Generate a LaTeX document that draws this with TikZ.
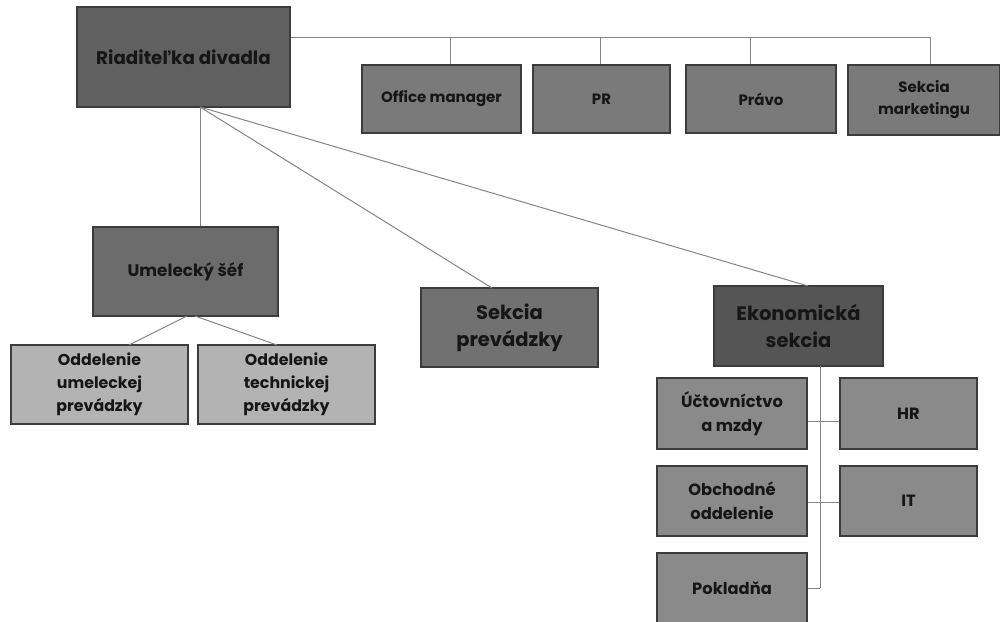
\documentclass[tikz,border=0pt]{standalone}
\usepackage{fontspec}
\setmainfont{Poppins}
\definecolor{linec}{HTML}{858585}
\definecolor{edgec}{HTML}{3C3C3C}
\definecolor{txt}{HTML}{161616}
\definecolor{fRoot}{HTML}{606060}
\definecolor{fTop}{HTML}{7A7A7A}
\definecolor{fUm}{HTML}{6C6C6C}
\definecolor{fSp}{HTML}{717171}
\definecolor{fEko}{HTML}{555555}
\definecolor{fLight}{HTML}{B3B3B3}
\definecolor{fSub}{HTML}{8A8A8A}
\begin{document}
\begin{tikzpicture}[x=1pt,y=-1pt,
  box/.style={draw=edgec,line width=1.4pt,text=txt,align=center,inner sep=2pt,font=\bfseries},
  conn/.style={draw=linec,line width=1pt}]
\useasboundingbox (0,0) rectangle (1000,621);
% root
\node[box,fill=fRoot,minimum width=213pt,minimum height=100pt,font=\bfseries\fontsize{18.3}{22}\selectfont] (root) at (183.5,57) {Riaditeľka divadla};
% top row
\node[box,fill=fTop,minimum width=159pt,minimum height=68pt,font=\bfseries\fontsize{15}{22}\selectfont] (om) at (441.5,99) {Office manager};
\node[box,fill=fTop,minimum width=137pt,minimum height=68pt,font=\bfseries\fontsize{15}{22}\selectfont] (pr) at (601.5,99) {PR};
\node[box,fill=fTop,minimum width=150pt,minimum height=68pt,font=\bfseries\fontsize{15}{22}\selectfont] (pravo) at (761,99) {Právo};
\node[box,fill=fTop,minimum width=152pt,minimum height=70pt,font=\bfseries\fontsize{15}{22}\selectfont] (mkt) at (924,100) {Sekcia\\marketingu};
% second level
\node[box,fill=fUm,minimum width=185pt,minimum height=89pt,font=\bfseries\fontsize{16.8}{20}\selectfont] (umel) at (185.5,271.5) {Umelecký šéf};
\node[box,fill=fSp,minimum width=177pt,minimum height=79pt,font=\bfseries\fontsize{19.5}{27}\selectfont] (sp) at (509.5,327.5) {Sekcia\\prevádzky};
\node[box,fill=fEko,minimum width=169pt,minimum height=80pt,font=\bfseries\fontsize{19.5}{27}\selectfont] (eko) at (798.5,326) {Ekonomická\\sekcia};
% umelecky children
\node[box,fill=fLight,minimum width=177pt,minimum height=79pt,font=\bfseries\fontsize{15.8}{23}\selectfont] (odu) at (99.5,384.5) {Oddelenie\\umeleckej\\prevádzky};
\node[box,fill=fLight,minimum width=177pt,minimum height=79pt,font=\bfseries\fontsize{15.8}{23}\selectfont] (odt) at (286.5,384.5) {Oddelenie\\technickej\\prevádzky};
% eko children
\node[box,fill=fSub,minimum width=150pt,minimum height=71pt,font=\bfseries\fontsize{16.3}{24}\selectfont] (uct) at (732,413.5) {Účtovníctvo\\a mzdy};
\node[box,fill=fSub,minimum width=137pt,minimum height=71pt,font=\bfseries\fontsize{16.3}{24}\selectfont] (hr) at (908.5,413.5) {HR};
\node[box,fill=fSub,minimum width=150pt,minimum height=70pt,font=\bfseries\fontsize{16.3}{24}\selectfont] (obch) at (732,501) {Obchodné\\oddelenie};
\node[box,fill=fSub,minimum width=137pt,minimum height=70pt,font=\bfseries\fontsize{16.3}{24}\selectfont] (it) at (908.5,501) {IT};
\node[box,fill=fSub,minimum width=150pt,minimum height=70pt,font=\bfseries\fontsize{16.3}{24}\selectfont] (pok) at (732,588) {Pokladňa};
% connectors
\coordinate (rootb) at (200,107);
\coordinate (bus) at (930,37);
\path[conn] (root.east |- bus) -- (bus) -- (mkt.north -| bus);
\path[conn] (om.north -| 450,0) -- (450,37);
\path[conn] (pr.north -| 600,0) -- (600,37);
\path[conn] (pravo.north -| 750,0) -- (750,37);
\path[conn] (rootb) -- (umel.north -| rootb);
\path[conn] (rootb) -- (492,288);
\path[conn] (rootb) -- (808,286);
\path[conn] (187,316) -- (129,345);
\path[conn] (195,316) -- (277,345);
\coordinate (ekob) at (820,366);
\coordinate (ekoe) at (820,588);
\path[conn] (ekob) -- (ekoe);
\path[conn] (uct.east) ++(0,7.5) coordinate (a1) -- (hr.west |- a1);
\path[conn] (obch.east) ++(0,1) coordinate (a2) -- (it.west |- a2);
\path[conn] (pok.east) -- (ekoe);
\end{tikzpicture}
\end{document}
